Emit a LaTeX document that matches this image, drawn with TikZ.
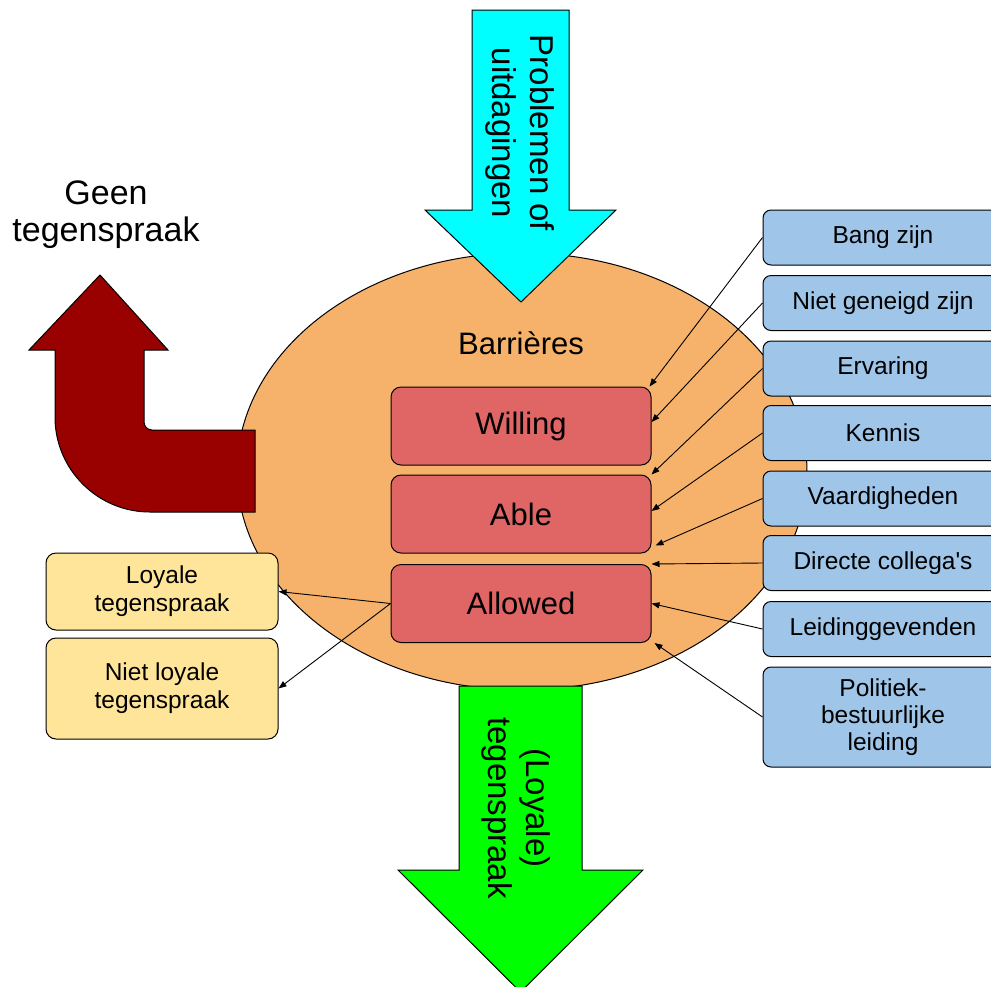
\documentclass[tikz,border=0pt]{standalone}
\usepackage{fontspec}
\newfontfamily\lib{Liberation Sans}[Ligatures=TeXOff]
\usetikzlibrary{shapes.geometric,arrows.meta}
\definecolor{orng}{HTML}{F6B26B}
\definecolor{redbox}{HTML}{E06666}
\definecolor{bluebox}{HTML}{9FC5E8}
\definecolor{yelbox}{HTML}{FFE599}
\definecolor{berry}{HTML}{990000}
\definecolor{cyanarrow}{HTML}{00FFFF}
\definecolor{greenarrow}{HTML}{00FF00}
\begin{document}
\begin{tikzpicture}[x=1pt,y=-1pt,
  outl/.style={draw=black, line width=1pt},
  bigtxt/.style={font=\lib\fontsize{31}{36}\selectfont},
  arrtxt/.style={font=\lib\fontsize{33}{38}\selectfont, align=center, rotate=-90, inner sep=0pt},
  rbox/.style={outl, fill=redbox, rounded corners=10pt, minimum width=260pt, minimum height=78pt, inner sep=0pt, bigtxt},
  bbox/.style={outl, fill=bluebox, rounded corners=8pt, minimum width=240pt, minimum height=55pt, inner sep=0pt, align=center, font=\lib\fontsize{24.5}{27}\selectfont},
  ybox/.style={outl, fill=yelbox, rounded corners=10pt, minimum width=232pt, inner sep=0pt, align=center, font=\lib\fontsize{24.5}{28}\selectfont},
  conn/.style={-{Triangle[length=8pt,width=6pt]}, line width=0.9pt, draw=black}
]
\useasboundingbox (0,0) rectangle (991,986);
\clip (0,0) rectangle (991,986);
\fill[white] (0,0) rectangle (991,986);

% central ellipse
\node[ellipse, outl, fill=orng, minimum width=570pt, minimum height=437pt, inner sep=0pt] (barr) at (522,471.5) {};

% red bent arrow
\path[outl, fill=berry] (29,350) -- (100,275) -- (168,350) -- (144,350) -- (144,422)
  arc[start angle=180, end angle=90, radius=8] -- (255,430) -- (255,512) -- (150,512)
  arc[start angle=90, end angle=180, radius=95] -- (55,350) -- cycle;

% cyan arrow
\path[outl, fill=cyanarrow] (472,10) -- (569,10) -- (569,210) -- (616,210) -- (521,302) -- (425,210) -- (472,210) -- cycle;
\node[arrtxt] (probl) at (520,133) {Problemen of\\uitdagingen};

% green arrow
\path[outl, fill=greenarrow] (459,686) -- (582,686) -- (582,870) -- (643,870) -- (520.5,992) -- (398,870) -- (459,870) -- cycle;
\node[arrtxt] (loyt) at (516,808) {(Loyale)\\tegenspraak};

% texts
\node[font=\lib\fontsize{34}{37}\selectfont, align=center, inner sep=0pt] (geen) at (106,215) {Geen\\tegenspraak};
\node[bigtxt, inner sep=0pt] (barrt) at (521,343) {Barrières};

% red boxes
\node[rbox] (willing) at (521,426) {Willing};
\node[rbox] (able) at (521,514) {Able};
\node[rbox] (allowed) at (521,603.5) {Allowed};

% blue boxes
\node[bbox] (bang) at (883,237.5) {Bang zijn};
\node[bbox] (niet) at (883,303) {Niet geneigd zijn};
\node[bbox] (erv) at (883,368.5) {Ervaring};
\node[bbox] (kennis) at (883,433) {Kennis};
\node[bbox] (vaard) at (883,498.5) {Vaardigheden};
\node[bbox] (dir) at (883,563) {Directe collega's};
\node[bbox] (leid) at (883,629) {Leidinggevenden};
\node[bbox, minimum height=100pt] (pol) at (883,717) {Politiek-\\bestuurlijke\\leiding};

% yellow boxes
\node[ybox, minimum height=77pt] (loy) at (162,591.5) {Loyale\\tegenspraak};
\node[ybox, minimum height=101pt] (nloy) at (162,688.5) {Niet loyale\\tegenspraak};

% connectors
\draw[conn] (bang.west) -- ([xshift=-2pt]willing.north east);
\draw[conn] (niet.west) -- ([yshift=4pt]willing.east);
\draw[conn] (erv.west) -- (able.north east);
\draw[conn] (kennis.west) -- ([yshift=3pt]able.east);
\draw[conn] (vaard.west) -- ([xshift=4pt,yshift=8pt]able.south east);
\draw[conn] (dir.west) -- (allowed.north east);
\draw[conn] (leid.west) -- (allowed.east);
\draw[conn] (pol.west) -- ([xshift=3pt]allowed.south east);
\draw[conn] (allowed.west) -- (loy.east);
\draw[conn] (allowed.west) -- (nloy.east);
\end{tikzpicture}
\end{document}
